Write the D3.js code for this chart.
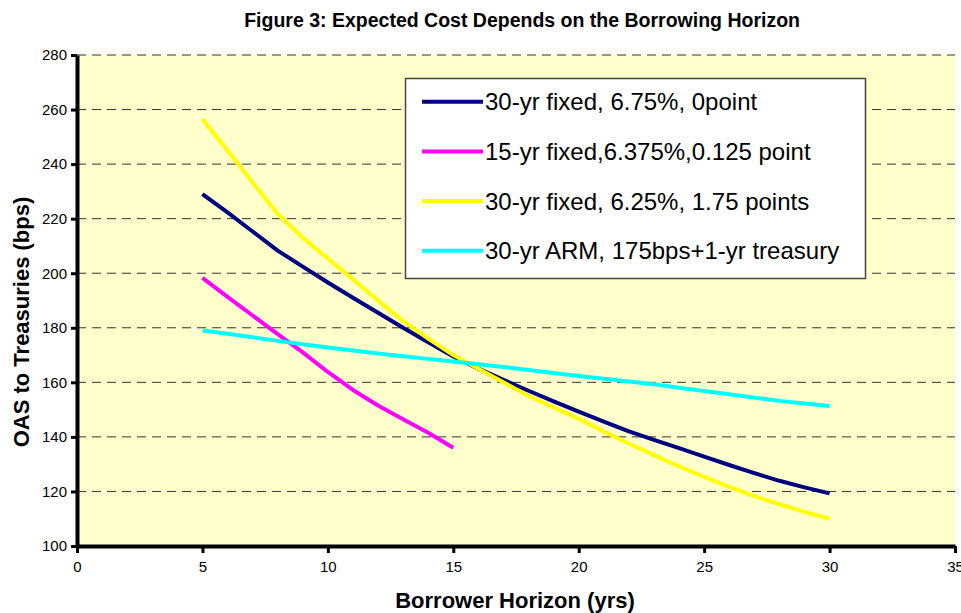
<!DOCTYPE html>
<html>
<head>
<meta charset="utf-8">
<script src="https://cdn.jsdelivr.net/npm/d3@7"></script>
<style>
  body { margin: 0; background: #fff; }
  text { font-family: Arial, "Liberation Sans", sans-serif; }
</style>
</head>
<body>
<div id="chart"></div>
<script>
// years on the x axis
const years = [5, 6, 7, 8, 9, 10, 11, 12, 13, 14, 15, 16, 17, 18, 19, 20, 21, 22, 23, 24, 25, 26, 27, 28, 29, 30];
const years15 = [5, 6, 7, 8, 9, 10, 11, 12, 13, 14, 15];

// OAS values (bps)
const fixed30_675 = [229, 222.3, 215.3, 208.3, 202.4, 196.6, 191, 185.5, 180, 174.7, 169.5, 165, 160.9, 156.9, 153, 149.3, 145.6, 142, 138.9, 135.9, 132.8, 129.7, 126.7, 123.9, 121.5, 119.3];
const fixed15_6375 = [198.3, 191.3, 184.5, 177.7, 171, 163.8, 157.2, 151.5, 146.5, 141.5, 136];
const fixed30_625 = [256.5, 245, 233.3, 221.7, 213, 205.4, 197.8, 190, 182.5, 176, 170, 165, 160, 155, 150.8, 146.7, 142, 137.6, 133.3, 129.2, 125.3, 121.7, 118.3, 115.3, 112.5, 110];
const arm30 = [179, 177.8, 176.5, 175.2, 174, 172.8, 171.7, 170.6, 169.6, 168.6, 167.6, 166.6, 165.6, 164.5, 163.4, 162.3, 161.3, 160.3, 159.3, 158, 156.8, 155.6, 154.4, 153.2, 152.2, 151.3];

const seriesNames = ['30-yr fixed, 6.75%, 0point', '15-yr fixed,6.375%,0.125 point', '30-yr fixed, 6.25%, 1.75 points', '30-yr ARM, 175bps+1-yr treasury'];
const seriesColors = ['#000080', '#FF00FF', '#FFFF00', '#00FFFF'];
const seriesX = [years, years15, years, years];
const seriesY = [fixed30_675, fixed15_6375, fixed30_625, arm30];

const xTicks = [0, 5, 10, 15, 20, 25, 30, 35];
const yTicks = [100, 120, 140, 160, 180, 200, 220, 240, 260, 280];

const width = 961;
const height = 613;
const plot = { left: 77, right: 955, top: 55, bottom: 546 };

const svg = d3.select('#chart')
  .append('svg')
  .attr('width', width)
  .attr('height', height);

const x = d3.scaleLinear().domain([0, 35]).range([plot.left, plot.right]);
const y = d3.scaleLinear().domain([100, 280]).range([plot.bottom, plot.top]);

// plot background
svg.append('rect')
  .attr('x', plot.left)
  .attr('y', plot.top)
  .attr('width', plot.right - plot.left)
  .attr('height', plot.bottom - plot.top)
  .attr('fill', '#FFFFCC');

// dashed gridlines
svg.append('g')
  .selectAll('line')
  .data(yTicks.filter((d) => d > 100))
  .join('line')
  .attr('x1', plot.left)
  .attr('x2', plot.right)
  .attr('y1', (d) => y(d))
  .attr('y2', (d) => y(d))
  .attr('stroke', '#333')
  .attr('stroke-width', 1)
  .attr('stroke-dasharray', '9,6');

// series lines
const lineGen = d3.line().x((d) => x(d[0])).y((d) => y(d[1]));
svg.append('g')
  .selectAll('path')
  .data(seriesY.map((vals, i) => ({ color: seriesColors[i], pts: vals.map((v, j) => [seriesX[i][j], v]) })))
  .join('path')
  .attr('fill', 'none')
  .attr('stroke', (d) => d.color)
  .attr('stroke-width', 4)
  .attr('stroke-linejoin', 'round')
  .attr('d', (d) => lineGen(d.pts));

// axes
const yAxis = svg.append('g')
  .attr('transform', `translate(${plot.left},0)`)
  .call(d3.axisLeft(y).tickValues(yTicks).tickSize(6).tickSizeOuter(0).tickPadding(4));
const xAxis = svg.append('g')
  .attr('transform', `translate(0,${plot.bottom})`)
  .call(d3.axisBottom(x).tickValues(xTicks).tickSize(7).tickSizeOuter(0).tickPadding(8));

[yAxis, xAxis].forEach((ax) => {
  ax.select('.domain').attr('stroke', '#000').attr('stroke-width', 4);
  ax.selectAll('.tick line').attr('stroke', '#000').attr('stroke-width', 3);
  ax.selectAll('.tick text')
    .attr('fill', '#000')
    .style('font-size', '15px')
    .style('font-family', 'Arial, "Liberation Sans", sans-serif');
});

// titles
svg.append('text')
  .attr('x', 800)
  .attr('y', 27)
  .attr('text-anchor', 'end')
  .style('font-size', '19.5px')
  .style('font-weight', 'bold')
  .text('Figure 3: Expected Cost Depends on the Borrowing Horizon');

svg.append('text')
  .attr('x', 515)
  .attr('y', 608)
  .attr('text-anchor', 'middle')
  .style('font-size', '22px')
  .style('font-weight', 'bold')
  .text('Borrower Horizon (yrs)');

svg.append('text')
  .attr('transform', 'translate(29,322) rotate(-90)')
  .attr('text-anchor', 'middle')
  .style('font-size', '22px')
  .style('font-weight', 'bold')
  .text('OAS to Treasuries (bps)');

// legend
const legend = svg.append('g');
legend.append('rect')
  .attr('x', 405.5)
  .attr('y', 78.5)
  .attr('width', 460)
  .attr('height', 200)
  .attr('fill', '#fff')
  .attr('stroke', '#444')
  .attr('stroke-width', 1.5);

const item = legend.selectAll('g')
  .data(seriesNames)
  .join('g')
  .attr('transform', (d, i) => `translate(0,${101.7 + i * 49.7})`);

item.append('line')
  .attr('x1', 422)
  .attr('x2', 483)
  .attr('stroke', (d, i) => seriesColors[i])
  .attr('stroke-width', 4);

item.append('text')
  .attr('x', 485)
  .attr('dy', '0.35em')
  .style('font-size', '24px')
  .text((d) => d);
</script>
</body>
</html>
